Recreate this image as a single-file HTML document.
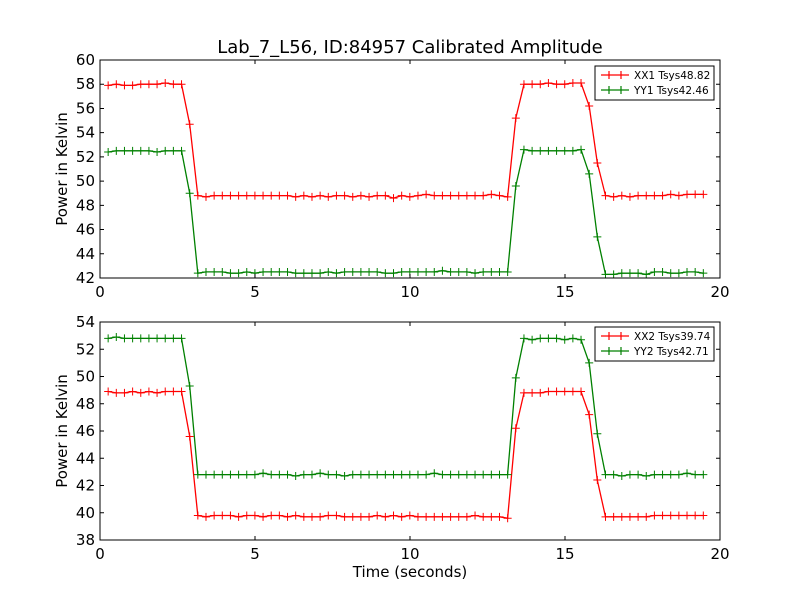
<!DOCTYPE html>
<html><head><meta charset="utf-8"><style>
body{margin:0;background:#fff;}
svg text{font-family:"DejaVu Sans","Liberation Sans",sans-serif;}
</style></head><body>
<svg id="chart" width="800" height="600" xmlns="http://www.w3.org/2000/svg">
<rect width="800" height="600" fill="#fff"/>
<text x="410" y="53" font-size="18" text-anchor="middle">Lab_7_L56, ID:84957 Calibrated Amplitude</text>
<g id="p1"></g>
<g id="p2"></g>
<text x="410" y="577" font-size="15" text-anchor="middle">Time (seconds)</text>
</svg>
<script>
const xTicks=[0,5,10,15,20];
const yTicksTop=[42,44,46,48,50,52,54,56,58,60];
const yTicksBot=[38,40,42,44,46,48,50,52,54];
const timeStep=0.263;
const xx1=[57.9,58.0,57.9,57.9,58.0,58.0,58.0,58.1,58.0,58.0,54.7,
48.8,48.7,48.8,48.8,48.8,48.8,48.8,48.8,48.8,48.8,48.8,48.8,48.7,48.8,48.7,48.8,48.7,48.8,48.8,48.7,48.8,48.7,48.8,48.8,48.6,48.8,48.7,48.8,48.9,48.8,48.8,48.8,48.8,48.8,48.8,48.8,48.9,48.8,48.7,
55.2,58.0,58.0,58.0,58.1,58.0,58.0,58.1,58.1,56.2,51.5,
48.8,48.7,48.8,48.7,48.8,48.8,48.8,48.8,48.9,48.8,48.9,48.9,48.9];
const yy1=[52.4,52.5,52.5,52.5,52.5,52.5,52.4,52.5,52.5,52.5,49.0,
42.4,42.5,42.5,42.5,42.4,42.4,42.5,42.4,42.5,42.5,42.5,42.5,42.4,42.4,42.4,42.4,42.5,42.4,42.5,42.5,42.5,42.5,42.5,42.4,42.4,42.5,42.5,42.5,42.5,42.5,42.6,42.5,42.5,42.5,42.4,42.5,42.5,42.5,42.5,
49.6,52.6,52.5,52.5,52.5,52.5,52.5,52.5,52.6,50.6,45.4,
42.3,42.3,42.4,42.4,42.4,42.3,42.5,42.5,42.4,42.4,42.5,42.5,42.4];
const xx2=[48.9,48.8,48.8,48.9,48.8,48.9,48.8,48.9,48.9,48.9,45.6,
39.8,39.7,39.8,39.8,39.8,39.7,39.8,39.8,39.7,39.8,39.8,39.7,39.8,39.7,39.7,39.7,39.8,39.8,39.7,39.7,39.7,39.7,39.8,39.7,39.8,39.7,39.8,39.7,39.7,39.7,39.7,39.7,39.7,39.7,39.8,39.7,39.7,39.7,39.6,
46.2,48.8,48.8,48.8,48.9,48.9,48.9,48.9,48.9,47.2,42.4,
39.7,39.7,39.7,39.7,39.7,39.7,39.8,39.8,39.8,39.8,39.8,39.8,39.8];
const yy2=[52.8,52.9,52.8,52.8,52.8,52.8,52.8,52.8,52.8,52.8,49.3,
42.8,42.8,42.8,42.8,42.8,42.8,42.8,42.8,42.9,42.8,42.8,42.8,42.7,42.8,42.8,42.9,42.8,42.8,42.7,42.8,42.8,42.8,42.8,42.8,42.8,42.8,42.8,42.8,42.8,42.9,42.8,42.8,42.8,42.8,42.8,42.8,42.8,42.8,42.8,
49.9,52.8,52.7,52.8,52.8,52.8,52.7,52.8,52.7,51.0,45.8,
42.8,42.8,42.7,42.8,42.8,42.7,42.8,42.8,42.8,42.8,42.9,42.8,42.8];
const legTop=["XX1 Tsys48.82","YY1 Tsys42.46"];
const legBot=["XX2 Tsys39.74","YY2 Tsys42.71"];
const NS="http://www.w3.org/2000/svg";
function mk(tag,attrs,parent){const e=document.createElementNS(NS,tag);for(const k in attrs)e.setAttribute(k,attrs[k]);parent.appendChild(e);return e;}
function panel(g,top,bot,ymin,ymax,yTicks,series,leg,legY,prefix){
  const L=100,R=720;
  const sx=v=>L+(v-0)/20*(R-L);
  const sy=v=>bot-(v-ymin)/(ymax-ymin)*(bot-top);
  const colors=["#ff0000","#008000"];
  series.forEach((s,si)=>{
    const pts=s.map((v,i)=>sx(timeStep*(i+1)).toFixed(1)+","+sy(v).toFixed(1));
    const pl=mk("polyline",{points:pts.join(" "),fill:"none",stroke:colors[si],"stroke-width":1.3},g);
    
    
    let d="";
    s.forEach((v,i)=>{const x=sx(timeStep*(i+1)),y=sy(v);d+=`M${x-4},${y}h8M${x},${y-4}v8`;});
    const m=mk("path",{d:d,stroke:colors[si],"stroke-width":1,fill:"none"},g);
    
    
  });
  const fr=mk("rect",{x:L,y:top,width:R-L,height:bot-top,fill:"none",stroke:"#000","stroke-width":1},g);
  
  
  xTicks.forEach(t=>{
    const x=sx(t);
    mk("path",{d:`M${x},${bot}v-4M${x},${top}v4`,stroke:"#000"},g);
    const tx=mk("text",{x:x,y:bot+19,"font-size":15,"text-anchor":"middle"},g);tx.textContent=t;
    
    
  });
  yTicks.forEach(t=>{
    const y=sy(t);
    mk("path",{d:`M${L},${y}h4M${R},${y}h-4`,stroke:"#000"},g);
    const tx=mk("text",{x:L-5,y:y+5,"font-size":15,"text-anchor":"end"},g);tx.textContent=t;
    
    
  });
  const yl=mk("text",{x:0,y:0,"font-size":15,"text-anchor":"middle",transform:`translate(67,${(top+bot)/2}) rotate(-90)`},g);
  yl.textContent="Power in Kelvin";
  
  
  const lg=mk("g",{},g);
  
  
  mk("rect",{x:595,y:legY,width:119,height:34,fill:"#fff",stroke:"#000","stroke-width":1},lg);
  leg.forEach((t,i)=>{
    const y=legY+9+i*15;
    mk("path",{d:`M601,${y}h28M609,${y-4}v8M621,${y-4}v8`,stroke:colors[i],"stroke-width":1.2},lg);
    const tx=mk("text",{x:634,y:y+4,"font-size":10.5},lg);tx.textContent=t;
    
    
  });
}
panel(document.getElementById("p1"),60,278,42,60,yTicksTop,[xx1,yy1],legTop,66,"top");
panel(document.getElementById("p2"),322,540,38,54,yTicksBot,[xx2,yy2],legBot,327,"bottom");
</script>
</body></html>
